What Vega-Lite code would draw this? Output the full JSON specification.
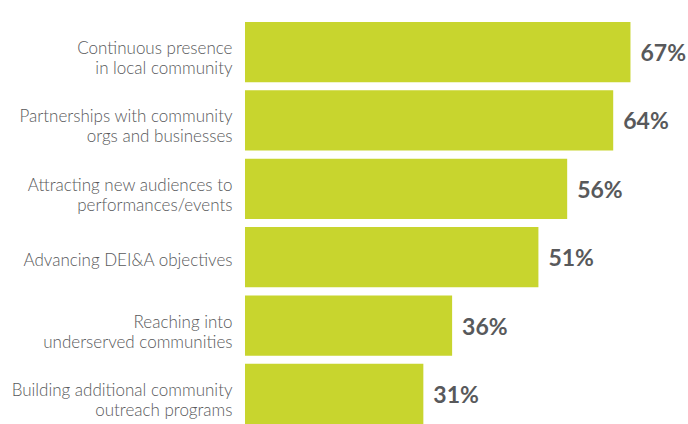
{
  "$schema": "https://vega.github.io/schema/vega-lite/v6.json",
  "width": 443,
  "height": 415,
  "autosize": "none",
  "padding": {"left": 245, "top": 9, "right": 0, "bottom": 0},
  "background": "white",
  "config": {"view": {"stroke": null}},
  "data": {
    "values": [
      {"item": "Continuous presence|in local community", "share": 0.67},
      {"item": "Partnerships with community|orgs and businesses", "share": 0.64},
      {"item": "Attracting new audiences to|performances/events", "share": 0.56},
      {"item": "Advancing DEI&A objectives", "share": 0.51},
      {"item": "Reaching into|underserved communities", "share": 0.36},
      {"item": "Building additional community|outreach programs", "share": 0.31}
    ]
  },
  "encoding": {
    "y": {
      "field": "item",
      "type": "nominal",
      "sort": null,
      "scale": {"range": [13, 415], "paddingInner": 0.12, "paddingOuter": 0},
      "axis": {
        "title": null,
        "domain": false,
        "ticks": false,
        "labelExpr": "split(datum.label, '|')",
        "labelPadding": 13,
        "labelFont": "Lato",
        "labelFontWeight": 300,
        "labelFontSize": 17,
        "labelLineHeight": 20,
        "labelColor": "#58595b",
        "labelLimit": 260,
        "labelOffset": {
          "condition": {"test": "indexof(datum.label, '|') >= 0", "value": -3},
          "value": 4
        }
      }
    }
  },
  "layer": [
    {
      "mark": {"type": "bar", "color": "#c8d52e"},
      "encoding": {
        "x": {
          "field": "share",
          "type": "quantitative",
          "scale": {"domain": [0, 0.77], "nice": false},
          "axis": null
        }
      }
    },
    {
      "mark": {
        "type": "text",
        "align": "left",
        "baseline": "middle",
        "dx": 10,
        "dy": 2,
        "font": "Lato",
        "fontWeight": "bold",
        "fontSize": 23,
        "color": "#58595b"
      },
      "encoding": {
        "x": {"field": "share", "type": "quantitative"},
        "text": {"field": "share", "type": "quantitative", "format": ".0%"}
      }
    },
    {
      "mark": {"type": "rule", "color": "#c4c4c4", "strokeWidth": 1.5},
      "encoding": {"x": {"datum": 0}}
    }
  ]
}
